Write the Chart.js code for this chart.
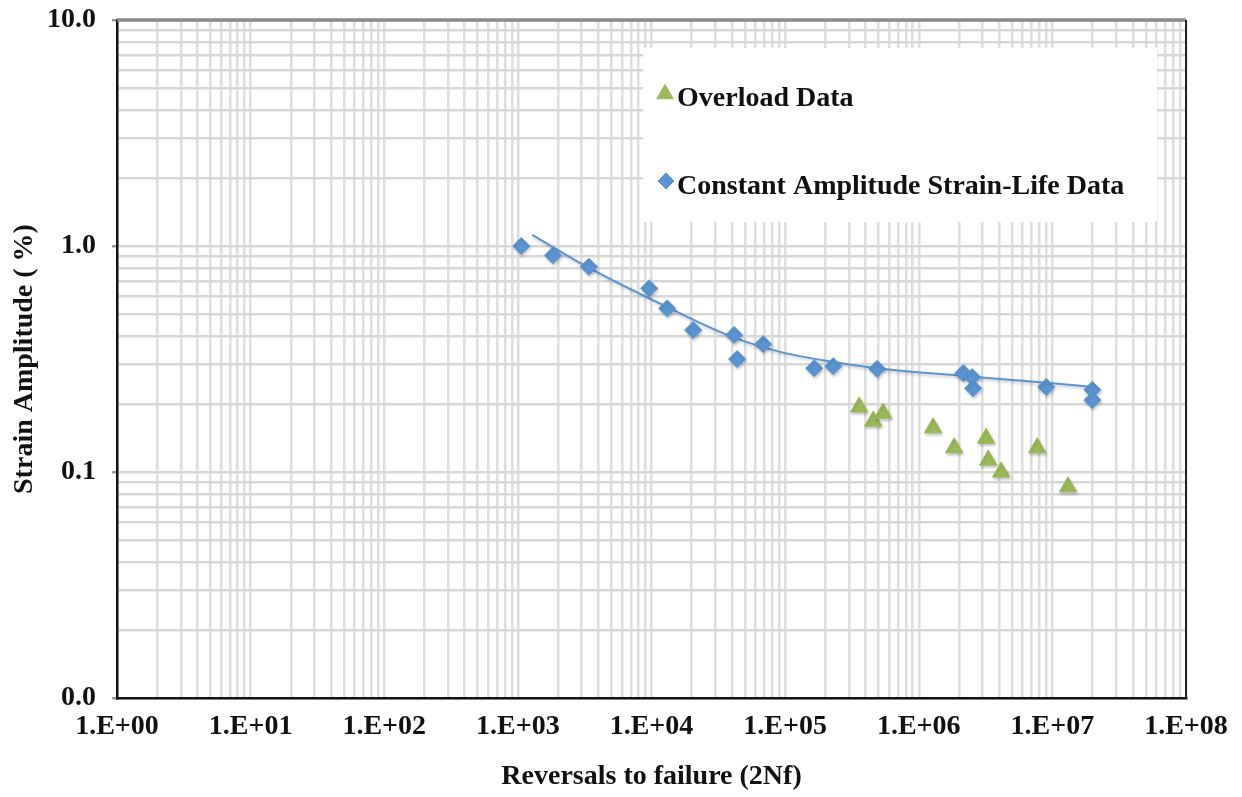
<!DOCTYPE html>
<html><head><meta charset="utf-8">
<script src="https://cdn.jsdelivr.net/npm/chart.js@4.4.1/dist/chart.umd.min.js"></script>
<style>html,body{margin:0;padding:0;background:#fff;}canvas{display:block;}</style>
</head><body>
<canvas id="c" width="1242" height="797"></canvas>
<script>
// Constant amplitude strain-life data (reversals, strain amplitude %)
const caX = [1060, 1830, 3400, 9600, 13100, 20500, 41500, 43700, 68400, 165000, 229000, 488000, 2150000, 2510000, 2550000, 8990000, 19900000, 19900000];
const caY = [1.00, 0.91, 0.81, 0.65, 0.53, 0.425, 0.404, 0.316, 0.368, 0.288, 0.294, 0.286, 0.274, 0.263, 0.235, 0.238, 0.231, 0.208];
// Overload data
const olX = [358000, 456000, 541000, 1280000, 1840000, 3190000, 3310000, 4140000, 7700000, 13100000];
const olY = [0.194, 0.168, 0.182, 0.157, 0.128, 0.141, 0.113, 0.100, 0.128, 0.086];
// Fitted trend line
const fitX = [1280, 3410, 13100, 40800, 91800, 228600, 489000, 2150000, 9140000, 19900000];
const fitY = [1.12, 0.80, 0.537, 0.395, 0.340, 0.307, 0.288, 0.266, 0.248, 0.238];

const xTickLabels = ['1.E+00','1.E+01','1.E+02','1.E+03','1.E+04','1.E+05','1.E+06','1.E+07','1.E+08'];
const yTickLabels = ['0.0','0.1','1.0','10.0'];
const legendLabels = ['Overload Data','Constant Amplitude Strain-Life Data'];
const xTitle = 'Reversals to failure (2Nf)';
const yTitle = 'Strain Amplitude ( %)';

const X_MIN_EXP = 0, X_MAX_EXP = 8, Y_MIN_EXP = -2, Y_MAX_EXP = 1;
const BLUE = '#5A94D1', GREEN = '#9BBB59';
const FONT = "'Liberation Serif', 'Times New Roman', serif";

function logTicks(minE, maxE) {
  const out = [];
  for (let e = minE; e < maxE; e++) {
    for (let s = 1; s <= 9; s++) out.push(parseFloat((s * Math.pow(10, e)).toPrecision(6)));
  }
  out.push(Math.pow(10, maxE));
  return out;
}
function isDecade(v) { const l = Math.log10(v); return Math.abs(l - Math.round(l)) < 1e-9; }
function decadeLabel(labels, minE) {
  return function (value) {
    if (!isDecade(value)) return '';
    return labels[Math.round(Math.log10(value)) - minE] || '';
  };
}
function pts(xs, ys) { return xs.map((x, i) => ({x: x, y: ys[i]})); }

const framePlugin = {
  id: 'frameLegend',
  beforeDatasetsDraw(chart) {
    const ctx = chart.ctx;
    ctx.save();
    ctx.shadowColor = 'rgba(0,0,0,0.22)';
    ctx.shadowBlur = 3;
    ctx.shadowOffsetX = 1;
    ctx.shadowOffsetY = 2;
  },
  afterDatasetsDraw(chart) {
    chart.ctx.restore();
  },
  afterDraw(chart) {
    const ctx = chart.ctx, a = chart.chartArea;
    ctx.save();
    ctx.strokeStyle = '#8a8a8a'; ctx.lineWidth = 3.5;
    ctx.beginPath(); ctx.moveTo(a.left, a.top); ctx.lineTo(a.right, a.top); ctx.stroke();
    ctx.strokeStyle = '#222'; ctx.lineWidth = 2;
    ctx.beginPath(); ctx.moveTo(a.right, a.top); ctx.lineTo(a.right, a.bottom); ctx.stroke();
    ctx.fillStyle = '#fff';
    ctx.fillRect(643, 48, 514, 174);
    const H = Chart.helpers;
    ctx.fillStyle = GREEN; ctx.strokeStyle = GREEN; ctx.lineWidth = 1;
    H.drawPoint(ctx, {pointStyle: 'triangle', radius: 9.5, rotation: 0, borderWidth: 1}, 665, 94);
    ctx.fillStyle = BLUE; ctx.strokeStyle = BLUE;
    H.drawPoint(ctx, {pointStyle: 'rectRot', radius: 8, rotation: 0, borderWidth: 1}, 666, 181);
    ctx.fillStyle = '#111';
    ctx.font = "bold 28px " + FONT;
    ctx.textBaseline = 'middle'; ctx.textAlign = 'left';
    ctx.fillText(legendLabels[0], 677, 99);
    ctx.fillText(legendLabels[1], 677, 187);
    ctx.restore();
  }
};

const chart = new Chart(document.getElementById('c'), {
  type: 'scatter',
  data: {
    datasets: [
      { label: legendLabels[0], data: pts(olX, olY), order: 0,
        pointStyle: 'triangle', pointRadius: 10, pointHoverRadius: 10,
        backgroundColor: GREEN, borderColor: GREEN, pointBorderWidth: 1 },
      { label: legendLabels[1], data: pts(caX, caY), order: 1,
        pointStyle: 'rectRot', pointRadius: 8.5, pointHoverRadius: 8.5,
        backgroundColor: BLUE, borderColor: BLUE, pointBorderWidth: 1 },
      { label: 'fit', data: pts(fitX, fitY), order: 2, showLine: true,
        pointRadius: 0, borderColor: '#5A94D1', borderWidth: 2,
        cubicInterpolationMode: 'monotone', fill: false }
    ]
  },
  options: {
    responsive: false, animation: false, devicePixelRatio: 1,
    layout: { padding: { top: 20, right: 56, left: 0, bottom: 0 } },
    plugins: { legend: { display: false }, tooltip: { enabled: false } },
    scales: {
      x: {
        type: 'logarithmic', min: Math.pow(10, X_MIN_EXP), max: Math.pow(10, X_MAX_EXP),
        afterBuildTicks: s => { s.ticks = logTicks(X_MIN_EXP, X_MAX_EXP).map(v => ({value: v, major: isDecade(v)})); },
        afterFit: s => { s.height = 99; s.paddingLeft = 0; s.paddingRight = 0; },
        ticks: { autoSkip: false, maxRotation: 0, minRotation: 0, padding: 6, color: '#111',
                 font: { family: FONT, size: 28, weight: 'bold' },
                 callback: decadeLabel(xTickLabels, X_MIN_EXP) },
        grid: { color: '#dedede', lineWidth: 2.5, drawTicks: true, tickLength: 6, tickColor: 'rgba(0,0,0,0)' },
        border: { display: true, color: '#111', width: 2.5 },
        title: { display: true, text: xTitle, color: '#111', padding: { top: 0, bottom: 3 },
                 font: { family: FONT, size: 28, weight: 'bold' } }
      },
      y: {
        type: 'logarithmic', min: Math.pow(10, Y_MIN_EXP), max: Math.pow(10, Y_MAX_EXP),
        afterBuildTicks: s => { s.ticks = logTicks(Y_MIN_EXP, Y_MAX_EXP).map(v => ({value: v, major: isDecade(v)})); },
        afterFit: s => { s.width = 117; s.paddingTop = 0; s.paddingBottom = 0; },
        ticks: { autoSkip: false, padding: 16, color: '#111',
                 font: { family: FONT, size: 28, weight: 'bold' },
                 callback: decadeLabel(yTickLabels, Y_MIN_EXP) },
        grid: { color: '#d8d8d8', lineWidth: 2.5, drawTicks: true, tickLength: 5,
                tickColor: c => (c.tick && isDecade(c.tick.value)) ? '#999' : 'rgba(0,0,0,0)' },
        border: { display: true, color: '#111', width: 2.5 },
        title: { display: true, text: yTitle, color: '#111', padding: { top: 8, bottom: 0 },
                 font: { family: FONT, size: 28, weight: 'bold' } }
      }
    }
  },
  plugins: [framePlugin]
});
</script>
</body></html>
